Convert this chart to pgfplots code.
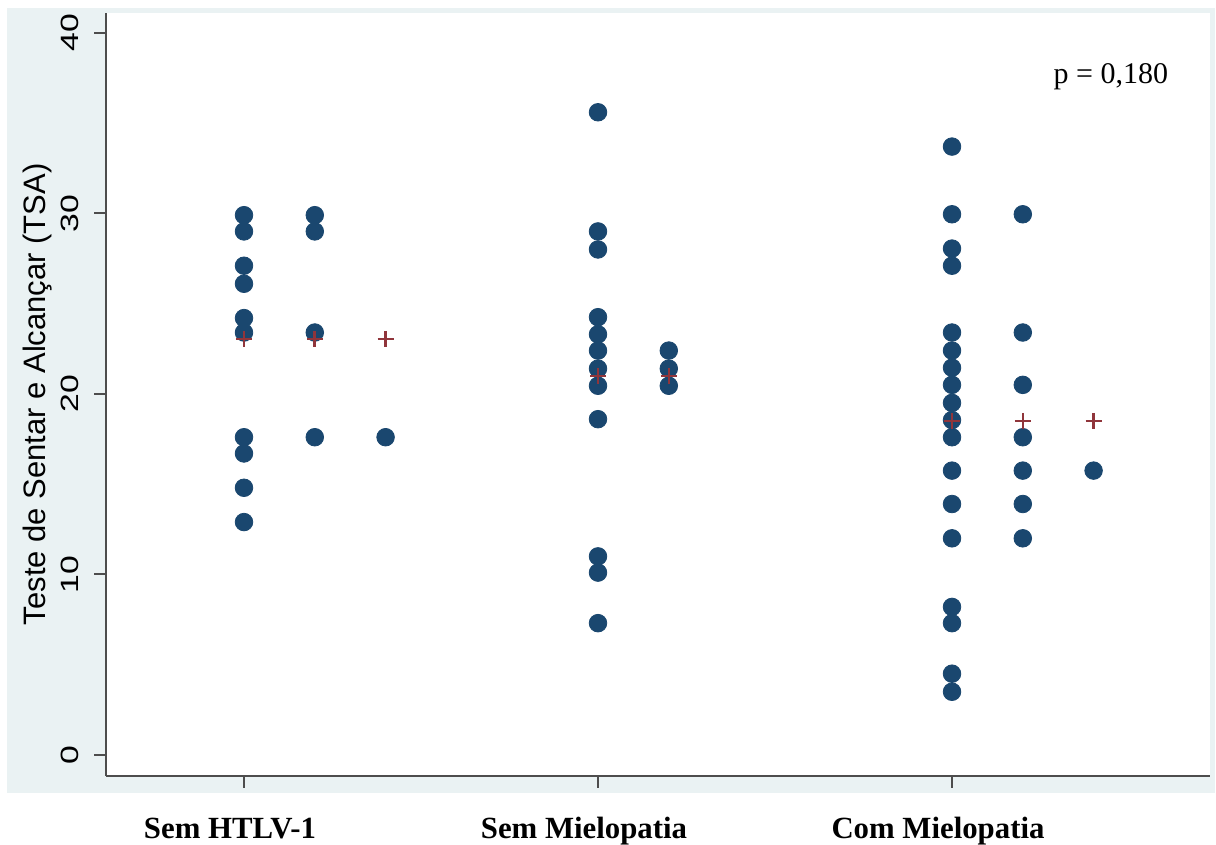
\documentclass[border=0pt]{standalone}
\usepackage{fontspec}
\setmainfont{Liberation Serif}
\setsansfont{Liberation Sans}
\usepackage{pgfplots}
\pgfplotsset{compat=1.18}
\definecolor{panel}{HTML}{EAF2F3}
\definecolor{dotc}{HTML}{1A476F}
\definecolor{plusc}{HTML}{90353B}
\definecolor{axc}{HTML}{4D4D4D}
\begin{document}
\begin{tikzpicture}
\useasboundingbox (0,0) rectangle (608pt,422.5pt);
\fill[white] (0,0) rectangle (608pt,422.5pt);
\fill[panel] (3.5pt,26pt) rectangle (607.5pt,418.5pt);
\begin{axis}[
  at={(53pt,34.65pt)}, anchor=south west,
  scale only axis, width=552pt, height=381.35pt,
  xmin=0.6102, xmax=3.7288, ymin=-1.15, ymax=41.1,
  axis background/.style={fill=white},
  axis lines*=left,
  axis line style={axc, line width=1pt},
  tick align=outside,
  major tick length=6pt,
  tick style={axc, line width=1pt},
  xtick={1,2,3},
  xticklabels={Sem HTLV-1, Sem Mielopatia, Com Mielopatia},
  xticklabel style={font=\bfseries\fontsize{15.4}{15.4}\selectfont, anchor=base, inner sep=0pt, xshift=-7pt, yshift=-25.6pt},
  ytick={0,10,20,30,40},
  /pgf/number format/assume math mode=true,
  yticklabel={\scalebox{1.35}[1]{\pgfmathprintnumber{\tick}}},
  yticklabel style={font=\sffamily\fontsize{12.5}{12.5}\selectfont, rotate=90, anchor=base, inner sep=0pt, yshift=7.5pt},
  ylabel={Teste de Sentar e Alcançar (TSA)},
  ylabel style={font=\sffamily\fontsize{15.5}{15.5}\selectfont, at={(axis description cs:0,0.5)}, anchor=base, inner sep=0pt, yshift=30.5pt},
  clip=false,
]
\addplot[only marks, mark=*, mark size=4.4pt, color=dotc] coordinates {
  (1,29.9) (1,29.0) (1,27.1) (1,26.1) (1,24.2) (1,23.4) (1,17.6) (1,16.7) (1,14.8) (1,12.9)
  (1.2,29.9) (1.2,29.0) (1.2,23.4) (1.2,17.6)
  (1.4,17.6)
  (2,35.6) (2,29.0) (2,28.0) (2,24.25) (2,23.3) (2,22.4) (2,21.4) (2,20.45) (2,18.6) (2,11.0) (2,10.1) (2,7.3)
  (2.2,22.4) (2.2,21.4) (2.2,20.45)
  (3,33.7) (3,29.95) (3,28.05) (3,27.1) (3,23.4) (3,22.4) (3,21.45) (3,20.5) (3,19.5) (3,18.55) (3,17.6) (3,15.75) (3,13.9) (3,12.0) (3,8.2) (3,7.3) (3,4.5) (3,3.5)
  (3.2,29.95) (3.2,23.4) (3.2,20.5) (3.2,17.6) (3.2,15.75) (3.2,13.9) (3.2,12.0)
  (3.4,15.75)
};
\addplot[only marks, mark=+, mark size=4pt, color=plusc, mark options={line width=1.3pt}] coordinates {
  (1,23.05) (1.2,23.05) (1.4,23.05)
  (2,20.98) (2.2,20.98)
  (3,18.5) (3.2,18.5) (3.4,18.5)
};
\node[anchor=base, font=\fontsize{15}{15}\selectfont] at (axis cs:3.449,37.2) {p = 0,180};
\end{axis}
\end{tikzpicture}
\end{document}
